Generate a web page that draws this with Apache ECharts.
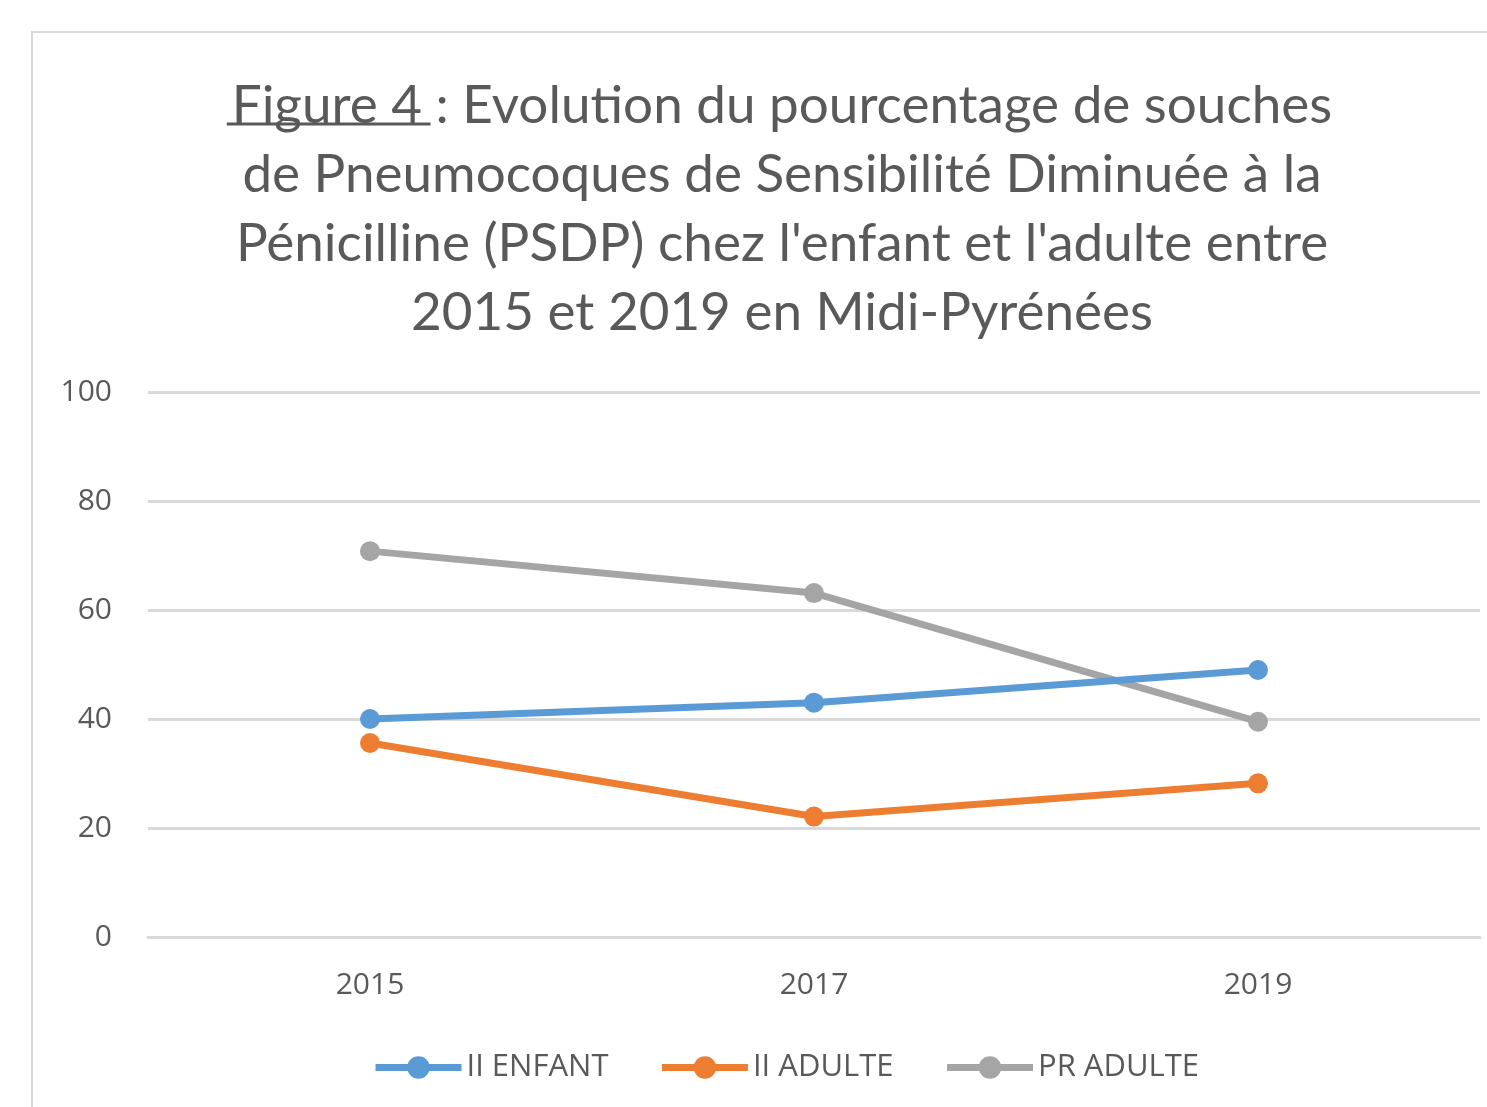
<!DOCTYPE html>
<html>
<head>
<meta charset="utf-8">
<script src="https://cdn.jsdelivr.net/npm/echarts@6/dist/echarts.min.js"></script>
<style>
html, body { margin: 0; padding: 0; background: #fff; }
#main { width: 1487px; height: 1107px; }
</style>
</head>
<body>
<div id="main"></div>
<script>
var years = ['2015', '2017', '2019'];
var enfantII = [40, 43, 49];
var adulteII = [35.6, 22.1, 28.2];
var adultePR = [70.8, 63.1, 39.5];
var seriesNames = ['II ENFANT', 'II ADULTE', 'PR ADULTE'];
var colors = ['#5b9bd5', '#ed7d31', '#a5a5a5'];

var FONT = 'Open Sans';
var TITLE_FONT = 'Lato';
var titlePrefix = 'Figure 4 ';
var titleLines = [
    ': Evolution du pourcentage de souches',
    'de Pneumocoques de Sensibilité Diminuée à la',
    "Pénicilline (PSDP) chez l'enfant et l'adulte entre",
    '2015 et 2019 en Midi-Pyrénées'
];

// taille du titre ajustée pour que la 1re ligne fasse ~1109px, comme l'original
var cv = document.createElement('canvas').getContext('2d');
cv.font = '44px "' + TITLE_FONT + '"';
var titleSize = Math.round(44 * 1109 / cv.measureText(titlePrefix + titleLines[0]).width);
cv.font = titleSize + 'px "' + TITLE_FONT + '"';
var wPrefix = cv.measureText(titlePrefix).width;
var wLine1 = cv.measureText(titlePrefix + titleLines[0]).width;
var centerX = 777;
var ulX1 = centerX - wLine1 / 2;

var myChart = echarts.init(document.getElementById('main'));
var option = {
    backgroundColor: '#fff',
    color: colors,
    textStyle: { fontFamily: FONT, color: '#595959' },
    title: {
        text: '{u|' + titlePrefix + '}' + titleLines.join('\n'),
        left: centerX,
        textAlign: 'center',
        top: 66,
        textStyle: {
            fontFamily: TITLE_FONT,
            fontSize: titleSize,
            fontWeight: 'normal',
            color: '#595959',
            lineHeight: 69,
            rich: {
                u: { fontFamily: TITLE_FONT, fontSize: titleSize, color: '#595959', lineHeight: 69 }
            }
        }
    },
    graphic: [
        {
            type: 'rect',
            shape: { x: 32, y: 32, width: 1500, height: 1100 },
            style: { fill: null, stroke: '#d9d9d9', lineWidth: 2 },
            silent: true
        },
        {
            type: 'line',
            shape: { x1: ulX1, y1: 124, x2: ulX1 + wPrefix, y2: 124 },
            style: { stroke: '#595959', lineWidth: 3 },
            silent: true
        }
    ],
    legend: {
        data: seriesNames,
        bottom: 19,
        left: 367,
        itemWidth: 86,
        itemHeight: 28,
        itemGap: 50,
        lineStyle: { width: 7 },
        textStyle: { fontSize: 31, color: '#595959', fontFamily: FONT }
    },
    grid: { left: 148, right: 7, top: 392, bottom: 170 },
    xAxis: {
        type: 'category',
        data: years,
        boundaryGap: true,
        axisLine: { lineStyle: { color: '#d9d9d9', width: 3 } },
        axisTick: { show: false },
        axisLabel: { fontSize: 30, color: '#595959', margin: 33 }
    },
    yAxis: {
        type: 'value',
        min: 0,
        max: 100,
        interval: 20,
        axisLine: { show: false },
        axisTick: { show: false },
        axisLabel: { fontSize: 30, color: '#595959', margin: 36 },
        splitLine: { lineStyle: { color: '#d9d9d9', width: 3 } }
    },
    series: [
        { name: seriesNames[0], type: 'line', data: enfantII },
        { name: seriesNames[1], type: 'line', data: adulteII },
        { name: seriesNames[2], type: 'line', data: adultePR }
    ].map(function (s, i) {
        s.symbol = 'circle';
        s.symbolSize = 20;
        s.lineStyle = { width: 7, color: colors[i] };
        s.itemStyle = { color: colors[i] };
        s.z = 3 - i;
        return s;
    })
};
myChart.setOption(option);
</script>
</body>
</html>
